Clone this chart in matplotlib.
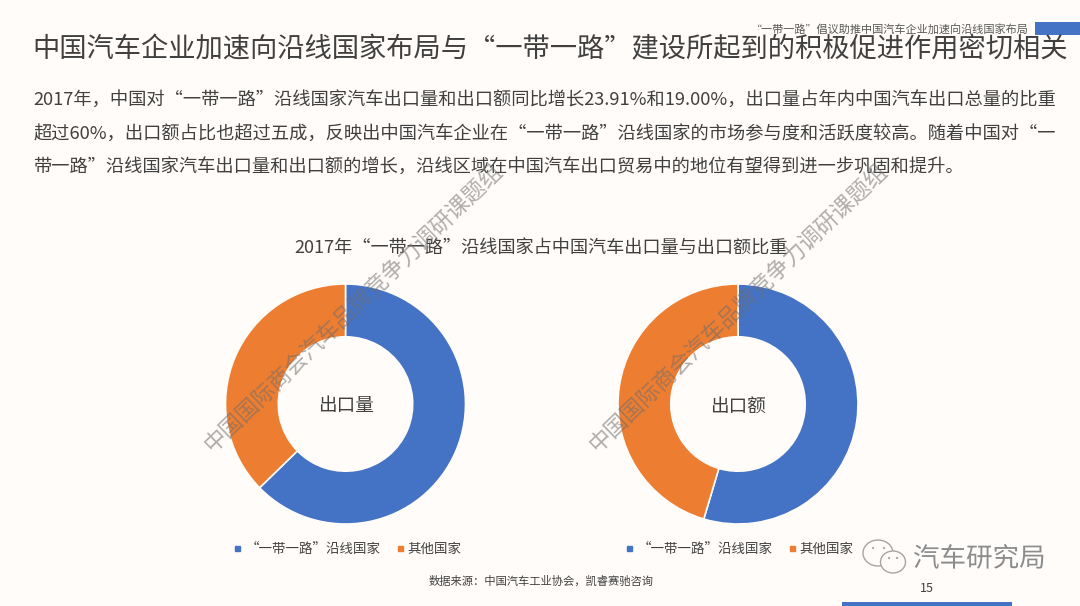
#!/usr/bin/env python
#coding: utf-8

import matplotlib
matplotlib.use('Agg')
import matplotlib.pyplot as plt
import matplotlib.patches as patches
import matplotlib.patheffects as pe
from matplotlib.lines import Line2D

plt.rcParams['font.family'] = ['Noto Sans CJK SC', 'DejaVu Sans']

W, H = 1080, 606
BG = '#FFFCF9'
BLUE = '#4472C4'
ORANGE = '#ED7D31'
TEXT = '#404040'

# data (share in percent)
categories = ['“一带一路”沿线国家', '其他国家']
volume_share = [62.7, 37.3]
value_share = [54.6, 45.4]
donut_names = ['出口量', '出口额']

page_title = '中国汽车企业加速向沿线国家布局与“一带一路”建设所起到的积极促进作用密切相关'
header = '“一带一路”倡议助推中国汽车企业加速向沿线国家布局'
body_lines = [
    '2017年，中国对“一带一路”沿线国家汽车出口量和出口额同比增长23.91%和19.00%，出口量占年内中国汽车出口总量的比重',
    '超过60%，出口额占比也超过五成，反映出中国汽车企业在“一带一路”沿线国家的市场参与度和活跃度较高。随着中国对“一',
    '带一路”沿线国家汽车出口量和出口额的增长，沿线区域在中国汽车出口贸易中的地位有望得到进一步巩固和提升。',
]
chart_title = '2017年“一带一路”沿线国家占中国汽车出口量与出口额比重'
source = '数据来源：中国汽车工业协会，凯睿赛驰咨询'
page_no = '15'
watermark = '中国国际商会汽车品牌竞争力调研课题组'
logo_text = '汽车研究局'


def put_text(fig, x, y, s, size, **kw):
    # x, y in pixels from the top left
    kw.setdefault('color', TEXT)
    kw.setdefault('va', 'center')
    return fig.text(x / W, 1 - y / H, s, fontsize=size, **kw)


def add_rect(fig, x, y, w, h, color):
    fig.patches.append(patches.Rectangle((x / W, 1 - (y + h) / H), w / W, h / H,
                                         transform=fig.transFigure, color=color, lw=0))


def draw_donut(fig, cx, cy, share, name):
    r = 120
    pad = 2
    ax = fig.add_axes([(cx - r - pad) / W, 1 - (cy + r + pad) / H,
                       (2 * r + 2 * pad) / W, (2 * r + 2 * pad) / H])
    ax.pie(share, colors=[BLUE, ORANGE], startangle=90, counterclock=False, radius=1,
           wedgeprops={'width': 0.44, 'edgecolor': BG, 'linewidth': 1.2})
    ax.set_xlim(-(r + pad) / r, (r + pad) / r)
    ax.set_ylim(-(r + pad) / r, (r + pad) / r)
    ax.text(0, -0.02, name, ha='center', va='center', fontsize=13.4, color=TEXT)
    ax.patch.set_visible(False)
    return ax


def draw_legend(fig, x, y):
    handles = [Line2D([], [], ls='', marker='s', ms=3.6, color=c) for c in [BLUE, ORANGE]]
    fig.legend(handles, categories, loc='center left',
               bbox_to_anchor=(x / W, 1 - y / H), frameon=False, ncol=2,
               fontsize=9.7, labelcolor=TEXT, handletextpad=0.0, columnspacing=0.85,
               borderpad=0, borderaxespad=0, handlelength=1.2)


def draw_logo(fig):
    ax = fig.add_axes([0, 0, 1, 1], zorder=5)
    ax.set_xlim(0, W)
    ax.set_ylim(H, 0)
    ax.axis('off')
    c = '#A5A5A5'
    ax.add_patch(patches.Ellipse((878, 553), 30, 26, fc=BG, ec=c, lw=1))
    ax.add_patch(patches.Ellipse((893, 562), 25, 22, fc=BG, ec=c, lw=1))
    for px, py in [(873, 548), (884, 548), (889, 558), (897, 558)]:
        ax.add_patch(patches.Circle((px, py), 1.1, fc=c, lw=0))
    ax.text(913, 559, logo_text, fontsize=19.1, ha='left', va='center', color='#8C8C8C',
            fontweight='light', zorder=6,
            path_effects=[pe.withStroke(linewidth=1.0, foreground='#FFFFFF')])


fig = plt.figure(figsize=(W / 100, H / 100), dpi=100, facecolor=BG)

add_rect(fig, 1035, 22, 45, 13, BLUE)
add_rect(fig, 842, 602, 170, 4, BLUE)

put_text(fig, 750, 29, header, 8.0, color='#595959')
put_text(fig, 32, 50, page_title, 19.65)
for y, line in zip([101, 135, 168], body_lines):
    put_text(fig, 33, y, line, 13.15)
put_text(fig, 541, 249, chart_title, 13.1, ha='center')

draw_donut(fig, 345.5, 404, volume_share, donut_names[0])
draw_donut(fig, 738, 404, value_share, donut_names[1])
draw_legend(fig, 229, 549)
draw_legend(fig, 621, 549)

put_text(fig, 541, 581, source, 8.15, ha='center')
put_text(fig, 927, 588, page_no, 9, ha='center')

draw_logo(fig)

for x, y in [(353, 307), (738, 307)]:
    t = put_text(fig, x, y, watermark, 16.2, rotation=44, ha='center', rotation_mode='anchor',
                 color='#6E6E6E', alpha=0.55, fontweight='light', zorder=10)

fig.savefig('out.png', dpi=100, facecolor=BG)
